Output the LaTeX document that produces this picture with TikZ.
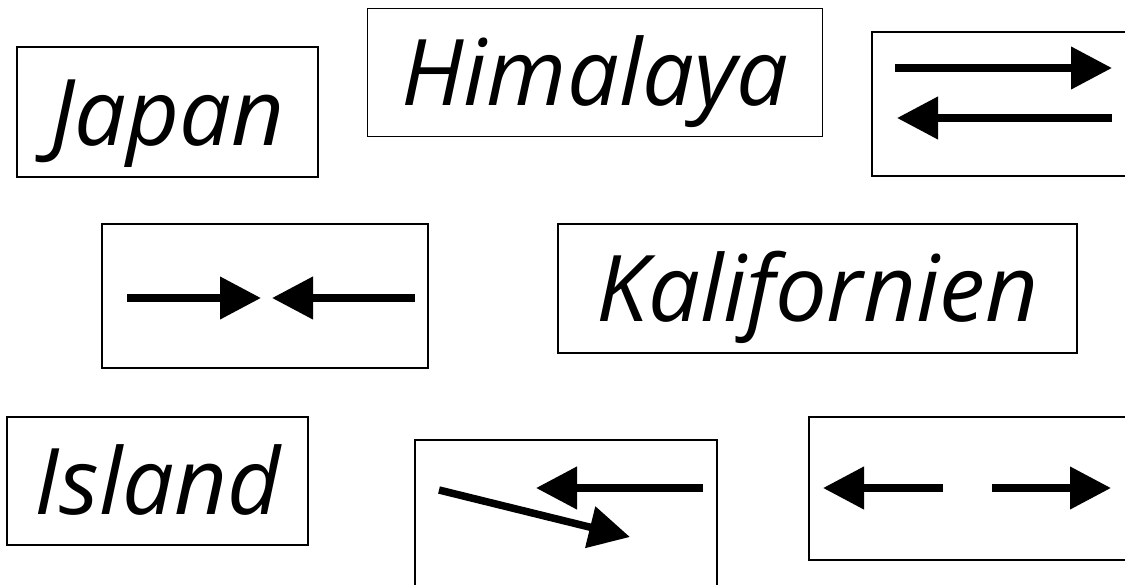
\documentclass[tikz,border=0pt]{standalone}
\usepackage{fontspec}
\setmainfont{Open Sans}
\usetikzlibrary{positioning}
\usetikzlibrary{arrows.meta}

\begin{document}
\begin{tikzpicture}
[x=1pt,y=-1pt,
 region/.style={shape=rectangle,draw,line width=1.5pt,inner sep=0pt,
	text height=76pt,text depth=10pt,
	font=\fontsize{92}{100}\selectfont\itshape},
 plate/.style={shape=rectangle,draw,line width=1.5pt,inner sep=0pt},
 motion/.style={line width=7.5pt,-{Triangle[length=41pt,width=41pt]}}]

\useasboundingbox (0,0) rectangle (1125,584);

\draw (167.5,112) node (japan) [region,minimum width=301pt,minimum height=130pt] {Japan};

\draw (595,72.5) node (himalaya) [region,minimum width=455pt,minimum height=128pt] {Himalaya};

\draw (817.5,288.5) node (kalif) [region,minimum width=519pt,minimum height=129pt] {Kalifornien};

\draw (157.5,481) node (island) [region,minimum width=301pt,minimum height=128pt] {Island};

% boxes with plate motion
\draw (1006,104) node (swap) [plate,minimum width=268pt,minimum height=144pt] {};
\draw (265,296) node (converge) [plate,minimum width=326pt,minimum height=144pt] {};
\draw (566,514) node (cross) [plate,minimum width=302pt,minimum height=148pt] {};
\draw (974.5,488.5) node (diverge) [plate,minimum width=331pt,minimum height=143pt] {};

\coordinate (swap1) at (895,68);   \coordinate (swap2) at (1112,68);
\coordinate (swap3) at (1112,118); \coordinate (swap4) at (897,118);
\draw [motion] (swap1) -- (swap2);
\draw [motion] (swap3) -- (swap4);

\coordinate (conv1) at (127,298); \coordinate (conv2) at (261,298);
\coordinate (conv3) at (415,298); \coordinate (conv4) at (272,298);
\draw [motion] (conv1) -- (conv2);
\draw [motion] (conv3) -- (conv4);

\coordinate (cross1) at (703,488); \coordinate (cross2) at (536,488);
\coordinate (cross3) at (439,490); \coordinate (cross4) at (630,537);
\draw [motion] (cross1) -- (cross2);
\draw [motion] (cross3) -- (cross4);

\coordinate (div1) at (943,488); \coordinate (div2) at (823,488);
\coordinate (div3) at (992,488); \coordinate (div4) at (1111,488);
\draw [motion] (div1) -- (div2);
\draw [motion] (div3) -- (div4);

\end{tikzpicture}
\end{document}
